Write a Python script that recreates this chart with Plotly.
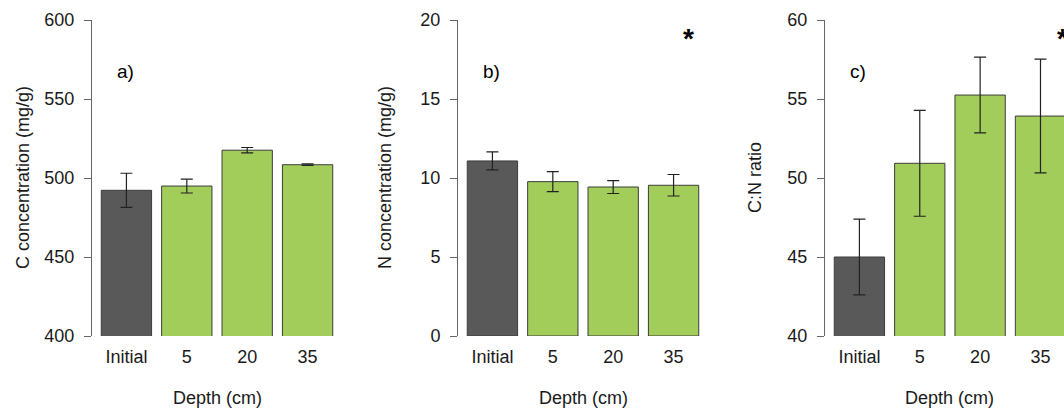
import plotly.graph_objects as go

categories = ["Initial", "5", "20", "35"]
x_pos = [0.7, 1.9, 3.1, 4.3]

c_conc = [492.2, 494.9, 517.6, 508.4]
c_err = [10.8, 4.4, 1.7, 0.5]

n_conc = [11.08, 9.77, 9.43, 9.54]
n_err = [0.57, 0.63, 0.41, 0.68]

cn_ratio = [45.0, 50.93, 55.25, 53.92]
cn_err = [2.4, 3.35, 2.4, 3.6]

bar_colors = ["#595959", "#a2cd5a", "#a2cd5a", "#a2cd5a"]

y_titles = ["C concentration (mg/g)", "N concentration (mg/g)", "C:N ratio"]
x_title = "Depth (cm)"
y_ranges = [[400, 600], [0, 20], [40, 60]]
y_ticks = [[400, 450, 500, 550, 600], [0, 5, 10, 15, 20], [40, 45, 50, 55, 60]]
panel_labels = ["a)", "b)", "c)"]
star_x = [None, 4.59, 4.73]
W = 1064.0
domains = [[92 / W, 342 / W], [458 / W, 708 / W], [825 / W, 1.0]]
x_ranges = [[0.016, 4.984], [0.016, 4.984], [0.016, 0.016 + 239.0 / 50.3]]
ytitle_shift = [-69, -73, -70]

FONT = "Liberation Sans, Arial, sans-serif"
TXT = "#1a1a1a"
FS = 18

fig = go.Figure()
series = [(c_conc, c_err), (n_conc, n_err), (cn_ratio, cn_err)]
for i, (vals, errs) in enumerate(series):
    sfx = "" if i == 0 else str(i + 1)
    fig.add_trace(go.Bar(
        x=x_pos, y=vals, width=1.0,
        marker=dict(color=bar_colors, line=dict(color="#3c3c3c", width=1)),
        error_y=dict(type="data", array=errs, visible=True, color="#222222", thickness=1.2, width=6),
        xaxis="x" + sfx, yaxis="y" + sfx, showlegend=False,
    ))

layout = dict(
    width=1064, height=409,
    margin=dict(l=0, r=0, t=20, b=73),
    paper_bgcolor="white", plot_bgcolor="white",
    font=dict(family=FONT, size=FS, color=TXT),
    annotations=[],
)
for i in range(3):
    sfx = "" if i == 0 else str(i + 1)
    layout["xaxis" + sfx] = dict(
        domain=domains[i], range=x_ranges[i],
        tickvals=x_pos, ticktext=categories,
        showline=False, showgrid=False, zeroline=False, ticks="",
        ticklabelstandoff=8,
        anchor="y" + sfx, fixedrange=True,
    )
    layout["yaxis" + sfx] = dict(
        range=y_ranges[i], tickvals=y_ticks[i],
        showline=True, linecolor="#666666", linewidth=1,
        ticks="outside", ticklen=7, tickcolor="#666666", tickwidth=1,
        ticklabelstandoff=6,
        showgrid=False, zeroline=False,
        anchor="x" + sfx, fixedrange=True,
    )
    yr = y_ranges[i]
    span = yr[1] - yr[0]
    # axis titles
    layout["annotations"].append(dict(
        x=2.5, y=0, xref="x" + sfx, yref="paper", yshift=-62,
        text=x_title, showarrow=False, font=dict(size=FS, color=TXT),
        xanchor="center", yanchor="middle",
    ))
    layout["annotations"].append(dict(
        x=0, y=0.5, xref=("x" if i == 0 else "x" + sfx) + " domain", yref="paper",
        xshift=ytitle_shift[i], textangle=-90,
        text=y_titles[i], showarrow=False, font=dict(size=FS, color=TXT),
        xanchor="center", yanchor="middle",
    ))
    layout["annotations"].append(dict(
        x=0.68, y=yr[1] - span * 51 / 316, xref="x" + sfx, yref="y" + sfx,
        text=panel_labels[i], showarrow=False, font=dict(size=19, color="#000000"),
        xanchor="center", yanchor="middle",
    ))
    if star_x[i] is not None:
        layout["annotations"].append(dict(
            x=star_x[i], y=yr[1] - span * 18 / 316, xref="x" + sfx, yref="y" + sfx,
            text="<b>*</b>", showarrow=False, font=dict(size=28, color="#000000"),
            xanchor="center", yanchor="middle",
        ))

fig.update_layout(**layout)
fig.write_html("out.html", config={"displayModeBar": False},
               post_script="document.body.style.margin='0';document.body.style.overflow='hidden';")
